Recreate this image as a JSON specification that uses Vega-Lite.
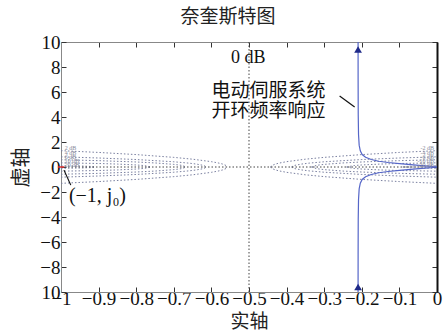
{
  "$schema": "https://vega.github.io/schema/vega-lite/v6.json",
  "width": 376,
  "height": 250,
  "autosize": "none",
  "padding": {"left": 61, "top": 42, "right": 8, "bottom": 39},
  "background": "white",
  "view": {"stroke": "#888", "strokeWidth": 1},
  "title": {"text": "奈奎斯特图", "font": "Noto Sans CJK SC", "fontSize": 19, "fontWeight": "normal", "color": "#222", "dx": -21, "offset": 6},
  "datasets": {
    "mc": [
      {"m": "L2", "x": -1, "yp": 1.3076, "yn": -1.3076},
      {"m": "L2", "x": -0.9, "yp": 1.1653, "yn": -1.1653},
      {"m": "L2", "x": -0.8, "yp": 0.9929, "yn": -0.9929},
      {"m": "L2", "x": -0.7, "yp": 0.7707, "yn": -0.7707},
      {"m": "L2", "x": -0.65, "yp": 0.6248, "yn": -0.6248},
      {"m": "L2", "x": -0.6, "yp": 0.4266, "yn": -0.4266},
      {"m": "L2", "x": -0.58, "yp": 0.3118, "yn": -0.3118},
      {"m": "L2", "x": -0.57, "yp": 0.2335, "yn": -0.2335},
      {"m": "L2", "x": -0.56, "yp": 0.1077, "yn": -0.1077},
      {"m": "L2", "x": -0.5573, "yp": 0, "yn": 0},
      {"m": "L4", "x": -1, "yp": 0.8133, "yn": -0.8133},
      {"m": "L4", "x": -0.9, "yp": 0.7206, "yn": -0.7206},
      {"m": "L4", "x": -0.8, "yp": 0.5974, "yn": -0.5974},
      {"m": "L4", "x": -0.7, "yp": 0.4179, "yn": -0.4179},
      {"m": "L4", "x": -0.66, "yp": 0.31, "yn": -0.31},
      {"m": "L4", "x": -0.64, "yp": 0.2358, "yn": -0.2358},
      {"m": "L4", "x": -0.62, "yp": 0.12, "yn": -0.12},
      {"m": "L4", "x": -0.6131, "yp": 0, "yn": 0},
      {"m": "L6", "x": -1, "yp": 0.5792, "yn": -0.5792},
      {"m": "L6", "x": -0.9, "yp": 0.5083, "yn": -0.5083},
      {"m": "L6", "x": -0.8, "yp": 0.4016, "yn": -0.4016},
      {"m": "L6", "x": -0.75, "yp": 0.3245, "yn": -0.3245},
      {"m": "L6", "x": -0.7, "yp": 0.2105, "yn": -0.2105},
      {"m": "L6", "x": -0.68, "yp": 0.136, "yn": -0.136},
      {"m": "L6", "x": -0.6661, "yp": 0, "yn": 0},
      {"m": "L10", "x": -1, "yp": 0.3333, "yn": -0.3333},
      {"m": "L10", "x": -0.9, "yp": 0.2809, "yn": -0.2809},
      {"m": "L10", "x": -0.85, "yp": 0.2351, "yn": -0.2351},
      {"m": "L10", "x": -0.8, "yp": 0.1633, "yn": -0.1633},
      {"m": "L10", "x": -0.78, "yp": 0.1176, "yn": -0.1176},
      {"m": "L10", "x": -0.7597, "yp": 0, "yn": 0},
      {"m": "L20", "x": -1, "yp": 0.1005, "yn": -0.1005},
      {"m": "L20", "x": -0.95, "yp": 0.0812, "yn": -0.0812},
      {"m": "L20", "x": -0.92, "yp": 0.0457, "yn": -0.0457},
      {"m": "L20", "x": -0.9091, "yp": 0, "yn": 0},
      {"m": "R2", "x": 0, "yp": 1.3076, "yn": -1.3076},
      {"m": "R2", "x": -0.1, "yp": 1.1653, "yn": -1.1653},
      {"m": "R2", "x": -0.2, "yp": 0.9929, "yn": -0.9929},
      {"m": "R2", "x": -0.3, "yp": 0.7707, "yn": -0.7707},
      {"m": "R2", "x": -0.35, "yp": 0.6248, "yn": -0.6248},
      {"m": "R2", "x": -0.4, "yp": 0.4266, "yn": -0.4266},
      {"m": "R2", "x": -0.42, "yp": 0.3118, "yn": -0.3118},
      {"m": "R2", "x": -0.43, "yp": 0.2335, "yn": -0.2335},
      {"m": "R2", "x": -0.44, "yp": 0.1077, "yn": -0.1077},
      {"m": "R2", "x": -0.4427, "yp": 0, "yn": 0},
      {"m": "R4", "x": 0, "yp": 0.8133, "yn": -0.8133},
      {"m": "R4", "x": -0.1, "yp": 0.7206, "yn": -0.7206},
      {"m": "R4", "x": -0.2, "yp": 0.5974, "yn": -0.5974},
      {"m": "R4", "x": -0.3, "yp": 0.4179, "yn": -0.4179},
      {"m": "R4", "x": -0.34, "yp": 0.31, "yn": -0.31},
      {"m": "R4", "x": -0.36, "yp": 0.2358, "yn": -0.2358},
      {"m": "R4", "x": -0.38, "yp": 0.12, "yn": -0.12},
      {"m": "R4", "x": -0.3869, "yp": 0, "yn": 0},
      {"m": "R6", "x": 0, "yp": 0.5792, "yn": -0.5792},
      {"m": "R6", "x": -0.1, "yp": 0.5083, "yn": -0.5083},
      {"m": "R6", "x": -0.2, "yp": 0.4016, "yn": -0.4016},
      {"m": "R6", "x": -0.25, "yp": 0.3245, "yn": -0.3245},
      {"m": "R6", "x": -0.3, "yp": 0.2105, "yn": -0.2105},
      {"m": "R6", "x": -0.32, "yp": 0.136, "yn": -0.136},
      {"m": "R6", "x": -0.3339, "yp": 0, "yn": 0},
      {"m": "R10", "x": 0, "yp": 0.3333, "yn": -0.3333},
      {"m": "R10", "x": -0.1, "yp": 0.2809, "yn": -0.2809},
      {"m": "R10", "x": -0.15, "yp": 0.2351, "yn": -0.2351},
      {"m": "R10", "x": -0.2, "yp": 0.1633, "yn": -0.1633},
      {"m": "R10", "x": -0.22, "yp": 0.1176, "yn": -0.1176},
      {"m": "R10", "x": -0.2403, "yp": 0, "yn": 0},
      {"m": "R20", "x": 0, "yp": 0.1005, "yn": -0.1005},
      {"m": "R20", "x": -0.05, "yp": 0.0812, "yn": -0.0812},
      {"m": "R20", "x": -0.08, "yp": 0.0457, "yn": -0.0457},
      {"m": "R20", "x": -0.0909, "yp": 0, "yn": 0}
    ],
    "ny": [
      {"arm": "u", "i": 0, "x": -0.2099, "y": 10},
      {"arm": "u", "i": 1, "x": -0.2098, "y": 7},
      {"arm": "u", "i": 2, "x": -0.2095, "y": 4.2},
      {"arm": "u", "i": 3, "x": -0.2087, "y": 2.6},
      {"arm": "u", "i": 4, "x": -0.207, "y": 1.75},
      {"arm": "u", "i": 5, "x": -0.204, "y": 1.3},
      {"arm": "u", "i": 6, "x": -0.199, "y": 1.0},
      {"arm": "u", "i": 7, "x": -0.19, "y": 0.78},
      {"arm": "u", "i": 8, "x": -0.175, "y": 0.6},
      {"arm": "u", "i": 9, "x": -0.155, "y": 0.46},
      {"arm": "u", "i": 10, "x": -0.13, "y": 0.36},
      {"arm": "u", "i": 11, "x": -0.1, "y": 0.27},
      {"arm": "u", "i": 12, "x": -0.07, "y": 0.19},
      {"arm": "u", "i": 13, "x": -0.04, "y": 0.11},
      {"arm": "u", "i": 14, "x": -0.015, "y": 0.05},
      {"arm": "u", "i": 15, "x": 0, "y": 0},
      {"arm": "l", "i": 0, "x": -0.2099, "y": -10},
      {"arm": "l", "i": 1, "x": -0.2098, "y": -7},
      {"arm": "l", "i": 2, "x": -0.2095, "y": -4.2},
      {"arm": "l", "i": 3, "x": -0.2087, "y": -2.6},
      {"arm": "l", "i": 4, "x": -0.207, "y": -1.75},
      {"arm": "l", "i": 5, "x": -0.204, "y": -1.3},
      {"arm": "l", "i": 6, "x": -0.199, "y": -1.0},
      {"arm": "l", "i": 7, "x": -0.19, "y": -0.78},
      {"arm": "l", "i": 8, "x": -0.175, "y": -0.6},
      {"arm": "l", "i": 9, "x": -0.155, "y": -0.46},
      {"arm": "l", "i": 10, "x": -0.13, "y": -0.36},
      {"arm": "l", "i": 11, "x": -0.1, "y": -0.27},
      {"arm": "l", "i": 12, "x": -0.07, "y": -0.19},
      {"arm": "l", "i": 13, "x": -0.04, "y": -0.11},
      {"arm": "l", "i": 14, "x": -0.015, "y": -0.05},
      {"arm": "l", "i": 15, "x": 0, "y": 0}
    ],
    "refs": [
      {"k": "v", "x": -0.5, "y": -10, "x2": -0.5, "y2": 10},
      {"k": "h", "x": -1, "y": 0, "x2": 0, "y2": 0}
    ],
    "leaders": [
      {"k": "a", "x": -0.259, "y": 5.68, "x2": -0.219, "y2": 4.8},
      {"k": "b", "x": -0.992, "y": -0.25, "x2": -0.974, "y2": -1.45}
    ],
    "arrows": [
      {"x": -0.2099, "y": 9.4},
      {"x": -0.2099, "y": -9.6}
    ],
    "dbLabel": [
      {"t": "0 dB", "x": -0.548, "y": 8.7}
    ],
    "critLabel": [
      {"t": "(−1, j₀)", "x": -0.979, "y": -2.35}
    ],
    "cjkLabels": [
      {"t": "电动伺服系统", "x": -0.6, "y": 6.1},
      {"t": "开环频率响应", "x": -0.6, "y": 4.5}
    ],
    "mlabL": [
      {"t": "20 dB", "x": -0.99, "y": 0.2},
      {"t": "10 dB", "x": -0.99, "y": 0.5},
      {"t": "6 dB", "x": -0.99, "y": 0.8},
      {"t": "4 dB", "x": -0.99, "y": 1.1},
      {"t": "2 dB", "x": -0.99, "y": 1.5}
    ],
    "mlabR": [
      {"t": "-20 dB", "x": -0.008, "y": 0.2},
      {"t": "-10 dB", "x": -0.008, "y": 0.5},
      {"t": "-6 dB", "x": -0.008, "y": 0.8},
      {"t": "-4 dB", "x": -0.008, "y": 1.1},
      {"t": "-2 dB", "x": -0.008, "y": 1.5}
    ],
    "crit": [{"x": -1, "y": 0}]
  },
  "resolve": {"axis": {"x": "independent", "y": "independent"}},
  "layer": [
    {
      "data": {"name": "mc"},
      "mark": {"type": "line", "stroke": "#7a80a0", "strokeWidth": 1, "strokeDash": [1.5, 2], "clip": true},
      "encoding": {
        "x": {"field": "x", "type": "quantitative", "scale": {"domain": [-1, 0], "nice": false, "zero": false},
          "axis": {"orient": "bottom", "values": [-1, -0.9, -0.8, -0.7, -0.6, -0.5, -0.4, -0.3, -0.2, -0.1, 0], "format": "~g",
            "labelFont": "Liberation Serif", "labelFontSize": 19, "labelColor": "#111", "labelFlush": false, "labelOverlap": false, "labelBound": false,
            "labelPadding": 2, "tickSize": -5, "tickColor": "#333", "domainColor": "#888", "grid": false,
            "title": "实轴", "titleFont": "Noto Sans CJK SC", "titleFontSize": 19, "titleFontWeight": "normal", "titleColor": "#222", "titlePadding": 4}},
        "y": {"field": "yp", "type": "quantitative", "scale": {"domain": [-10, 10], "nice": false, "zero": false},
          "axis": {"orient": "left", "values": [-10, -8, -6, -4, -2, 0, 2, 4, 6, 8, 10], "labelExpr": "datum.value == -10 ? '10' : datum.label",
            "labelFont": "Liberation Serif", "labelFontSize": 19, "labelColor": "#111", "labelPadding": 6, "labelOverlap": false, "labelBound": false,
            "tickSize": -5, "tickColor": "#333", "domainColor": "#888", "grid": false,
            "title": "虚轴", "titleFont": "Noto Sans CJK SC", "titleFontSize": 20, "titleFontWeight": "normal", "titleColor": "#222", "titlePadding": 8}},
        "detail": {"field": "m"}
      }
    },
    {
      "data": {"name": "mc"},
      "mark": {"type": "line", "stroke": "#7a80a0", "strokeWidth": 1, "strokeDash": [1.5, 2], "clip": true},
      "encoding": {
        "x": {"field": "x", "type": "quantitative",
          "axis": {"orient": "top", "values": [-1, -0.9, -0.8, -0.7, -0.6, -0.5, -0.4, -0.3, -0.2, -0.1, 0], "labels": false, "tickSize": -5, "tickColor": "#333", "domainColor": "#888", "grid": false, "title": null}},
        "y": {"field": "yn", "type": "quantitative",
          "axis": {"orient": "right", "values": [-10, -8, -6, -4, -2, 0, 2, 4, 6, 8, 10], "labels": false, "tickSize": -5, "tickColor": "#333", "domainColor": "#111", "domainWidth": 2, "grid": false, "title": null}},
        "detail": {"field": "m"}
      }
    },
    {
      "data": {"name": "refs"},
      "mark": {"type": "rule", "stroke": "#444", "strokeWidth": 1, "strokeDash": [1.5, 2]},
      "encoding": {
        "x": {"field": "x", "type": "quantitative", "axis": null},
        "y": {"field": "y", "type": "quantitative", "axis": null},
        "x2": {"field": "x2"},
        "y2": {"field": "y2"}
      }
    },
    {
      "data": {"name": "ny"},
      "mark": {"type": "line", "stroke": "#5566c8", "strokeWidth": 1.2, "clip": true},
      "encoding": {
        "x": {"field": "x", "type": "quantitative", "axis": null},
        "y": {"field": "y", "type": "quantitative", "axis": null},
        "detail": {"field": "arm"},
        "order": {"field": "i"}
      }
    },
    {
      "data": {"name": "arrows"},
      "mark": {"type": "point", "shape": "triangle-up", "filled": true, "fill": "#1f2a88", "stroke": null, "size": 60, "opacity": 1},
      "encoding": {
        "x": {"field": "x", "type": "quantitative", "axis": null},
        "y": {"field": "y", "type": "quantitative", "axis": null}
      }
    },
    {
      "data": {"name": "leaders"},
      "mark": {"type": "rule", "stroke": "#111", "strokeWidth": 1.2},
      "encoding": {
        "x": {"field": "x", "type": "quantitative", "axis": null},
        "y": {"field": "y", "type": "quantitative", "axis": null},
        "x2": {"field": "x2"},
        "y2": {"field": "y2"}
      }
    },
    {
      "data": {"name": "crit"},
      "mark": {"type": "point", "shape": "stroke", "stroke": "#e03030", "strokeWidth": 1.5, "size": 40, "opacity": 1},
      "encoding": {
        "x": {"field": "x", "type": "quantitative", "axis": null},
        "y": {"field": "y", "type": "quantitative", "axis": null}
      }
    },
    {
      "data": {"name": "mlabL"},
      "mark": {"type": "text", "align": "left", "baseline": "middle", "fontSize": 6, "font": "Liberation Serif", "fill": "#8a8a9a"},
      "encoding": {
        "x": {"field": "x", "type": "quantitative", "axis": null},
        "y": {"field": "y", "type": "quantitative", "axis": null},
        "text": {"field": "t"}
      }
    },
    {
      "data": {"name": "mlabR"},
      "mark": {"type": "text", "align": "right", "baseline": "middle", "fontSize": 6, "font": "Liberation Serif", "fill": "#8a8a9a"},
      "encoding": {
        "x": {"field": "x", "type": "quantitative", "axis": null},
        "y": {"field": "y", "type": "quantitative", "axis": null},
        "text": {"field": "t"}
      }
    },
    {
      "data": {"name": "dbLabel"},
      "mark": {"type": "text", "align": "left", "baseline": "middle", "fill": "#111", "font": "Liberation Serif", "fontSize": 18},
      "encoding": {
        "x": {"field": "x", "type": "quantitative", "axis": null},
        "y": {"field": "y", "type": "quantitative", "axis": null},
        "text": {"field": "t"}
      }
    },
    {
      "data": {"name": "critLabel"},
      "mark": {"type": "text", "align": "left", "baseline": "middle", "fill": "#111", "font": "Liberation Serif", "fontSize": 20},
      "encoding": {
        "x": {"field": "x", "type": "quantitative", "axis": null},
        "y": {"field": "y", "type": "quantitative", "axis": null},
        "text": {"field": "t"}
      }
    },
    {
      "data": {"name": "cjkLabels"},
      "mark": {"type": "text", "align": "left", "baseline": "middle", "fill": "#111", "font": "Noto Sans CJK SC", "fontSize": 19},
      "encoding": {
        "x": {"field": "x", "type": "quantitative", "axis": null},
        "y": {"field": "y", "type": "quantitative", "axis": null},
        "text": {"field": "t"}
      }
    }
  ]
}
